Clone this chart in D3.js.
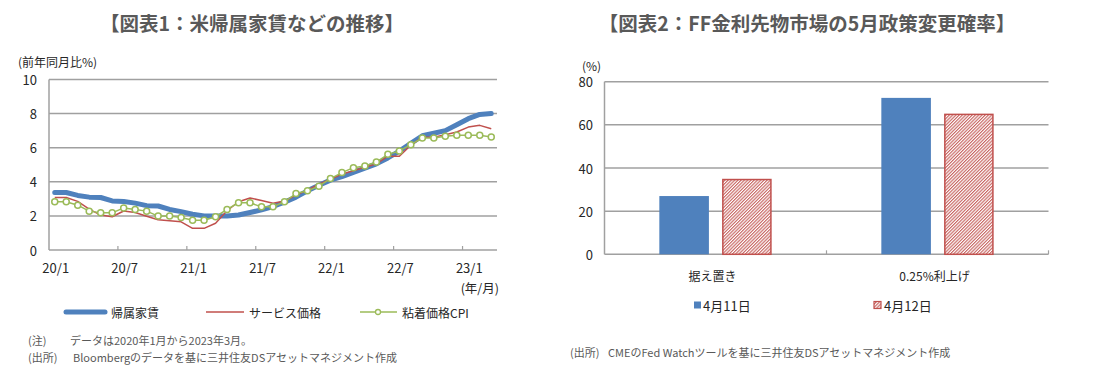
<!DOCTYPE html>
<html>
<head>
<meta charset="utf-8">
<script src="https://cdn.jsdelivr.net/npm/d3@7"></script>
<style>
  html, body { margin: 0; padding: 0; background: #fff; }
  svg { display: block; font-family: "Noto Sans CJK JP", "Noto Sans", sans-serif; }
</style>
</head>
<body>
<svg id="chart" width="1099" height="381"></svg>
<script>
// ---------- Data: chart 1 ----------
const months = [
  "20/1","20/2","20/3","20/4","20/5","20/6","20/7","20/8","20/9","20/10","20/11","20/12",
  "21/1","21/2","21/3","21/4","21/5","21/6","21/7","21/8","21/9","21/10","21/11","21/12",
  "22/1","22/2","22/3","22/4","22/5","22/6","22/7","22/8","22/9","22/10","22/11","22/12",
  "23/1","23/2","23/3"
];
const oer = [3.37,3.37,3.2,3.1,3.08,2.88,2.85,2.75,2.6,2.58,2.38,2.25,
             2.1,2.0,2.0,2.0,2.05,2.2,2.35,2.55,2.8,3.1,3.47,3.8,
             4.1,4.3,4.55,4.8,5.05,5.4,5.8,6.25,6.7,6.85,7.0,7.35,
             7.7,7.95,8.0];
const services = [3.08,3.08,2.85,2.4,2.05,1.95,2.29,2.2,1.98,1.77,1.72,1.65,
                  1.27,1.27,1.57,2.3,2.83,3.05,2.9,2.74,2.87,3.22,3.51,3.86,
                  4.15,4.45,4.65,4.85,5.05,5.5,5.5,6.14,6.62,6.62,6.76,6.92,
                  7.21,7.31,7.11];
const sticky = [2.83,2.83,2.63,2.28,2.18,2.18,2.47,2.38,2.28,1.99,1.99,1.91,
                1.75,1.75,1.95,2.38,2.77,2.77,2.53,2.53,2.83,3.31,3.47,3.74,
                4.19,4.54,4.83,4.93,5.16,5.61,5.81,6.18,6.57,6.57,6.67,6.73,
                6.73,6.73,6.63];
const xTickLabels = ["20/1","20/7","21/1","21/7","22/1","22/7","23/1"];
const yTicks1 = [0,2,4,6,8,10];
const seriesNames1 = ["帰属家賃","サービス価格","粘着価格CPI"];

// ---------- Data: chart 2 ----------
const categories2 = ["据え置き","0.25%利上げ"];
const seriesNames2 = ["4月11日","4月12日"];
const apr11 = [27.0, 72.5];
const apr12 = [35.0, 65.2];
const yTicks2 = [0,20,40,60,80];

// ---------- Styling ----------
const BLUE = "#4F81BD", RED = "#C0504D", GREEN = "#9BBB59";
const GRID = "#A0A0A0", TXT = "#262626", NOTE = "#595959", TITLE = "#595959";

const svg = d3.select("#chart");
const defs = svg.append("defs");
const pat = defs.append("pattern")
  .attr("id","hatch").attr("patternUnits","userSpaceOnUse")
  .attr("width",2.3).attr("height",2.3)
  .attr("patternTransform","rotate(45)");
pat.append("rect").attr("width",2.3).attr("height",2.3).attr("fill","#fff");
pat.append("line").attr("x1",0.6).attr("y1",0).attr("x2",0.6).attr("y2",2.3)
  .attr("stroke",RED).attr("stroke-width",1);

// ---------- Titles ----------
svg.append("text").attr("x",252).attr("y",22).attr("text-anchor","middle")
  .attr("dominant-baseline","central").attr("font-size",19.5).attr("font-weight","bold")
  .attr("fill",TITLE).text("【図表1：米帰属家賃などの推移】");
svg.append("text").attr("x",807).attr("y",22).attr("text-anchor","middle")
  .attr("dominant-baseline","central").attr("font-size",19.5).attr("font-weight","bold")
  .attr("fill",TITLE).text("【図表2：FF金利先物市場の5月政策変更確率】");

// ---------- Chart 1 ----------
const g1 = svg.append("g");
const x1 = d3.scaleBand().domain(months).range([49, 497]).padding(0);
const y1 = d3.scaleLinear().domain([0,10]).range([250, 79.5]);
const cx = d => x1(d) + x1.bandwidth()/2;

g1.selectAll(".grid").data(yTicks1.filter(v => v > 0)).join("line")
  .attr("x1",49).attr("x2",497).attr("y1",d=>y1(d)).attr("y2",d=>y1(d))
  .attr("stroke",GRID).attr("stroke-width",1.5);
g1.append("line").attr("x1",49).attr("x2",497).attr("y1",y1(0)).attr("y2",y1(0))
  .attr("stroke",GRID).attr("stroke-width",1.5);
g1.append("line").attr("x1",49).attr("x2",49).attr("y1",y1(0)).attr("y2",y1(10))
  .attr("stroke",GRID).attr("stroke-width",1.5);
g1.selectAll(".xt").data(xTickLabels.slice(1)).join("line")
  .attr("x1",d=>x1(d)).attr("x2",d=>x1(d)).attr("y1",y1(0)).attr("y2",y1(0)-4)
  .attr("stroke",GRID).attr("stroke-width",1.2);
g1.selectAll(".xl").data(xTickLabels).join("text")
  .attr("x",d=>cx(d)+1).attr("y",267).attr("text-anchor","middle")
  .attr("dominant-baseline","central").attr("font-size",13).attr("fill",TXT).text(d=>d);
g1.selectAll(".yl").data(yTicks1).join("text")
  .attr("x",37).attr("y",d=>y1(d)).attr("text-anchor","end")
  .attr("dominant-baseline","central").attr("font-size",13).attr("fill",TXT).text(d=>d);
g1.append("text").attr("x",18).attr("y",61).attr("dominant-baseline","central")
  .attr("font-size",12).attr("fill",TXT).text("(前年同月比%)");
g1.append("text").attr("x",499).attr("y",287).attr("text-anchor","end")
  .attr("dominant-baseline","central").attr("font-size",12.5).attr("fill",TXT).text("(年/月)");

const line1 = vals => d3.line().x((d,i)=>cx(months[i])).y(d=>y1(d))(vals);
g1.append("path").attr("d",line1(oer)).attr("fill","none").attr("stroke",BLUE)
  .attr("stroke-width",5).attr("stroke-linejoin","round").attr("stroke-linecap","round");
g1.append("path").attr("d",line1(services)).attr("fill","none").attr("stroke",RED)
  .attr("stroke-width",1.5).attr("stroke-linejoin","round");
g1.append("path").attr("d",line1(sticky)).attr("fill","none").attr("stroke",GREEN)
  .attr("stroke-width",1.5).attr("stroke-linejoin","round");
g1.selectAll(".mk").data(sticky).join("circle")
  .attr("cx",(d,i)=>cx(months[i])).attr("cy",d=>y1(d)).attr("r",3)
  .attr("fill","#fff").attr("stroke",GREEN).attr("stroke-width",1.5);

const ly = 312;
g1.append("line").attr("x1",66).attr("x2",105).attr("y1",ly).attr("y2",ly)
  .attr("stroke",BLUE).attr("stroke-width",5).attr("stroke-linecap","round");
g1.append("text").attr("x",111).attr("y",ly).attr("dominant-baseline","central")
  .attr("font-size",12).attr("fill",TXT).text(seriesNames1[0]);
g1.append("line").attr("x1",206).attr("x2",244).attr("y1",ly).attr("y2",ly)
  .attr("stroke",RED).attr("stroke-width",1.5);
g1.append("text").attr("x",249).attr("y",ly).attr("dominant-baseline","central")
  .attr("font-size",12).attr("fill",TXT).text(seriesNames1[1]);
g1.append("line").attr("x1",360).attr("x2",397).attr("y1",ly).attr("y2",ly)
  .attr("stroke",GREEN).attr("stroke-width",1.5);
g1.append("circle").attr("cx",378).attr("cy",ly).attr("r",2.5)
  .attr("fill","#fff").attr("stroke",GREEN).attr("stroke-width",1.3);
g1.append("text").attr("x",402).attr("y",ly).attr("dominant-baseline","central")
  .attr("font-size",12).attr("fill",TXT).text(seriesNames1[2]);

const notes1 = [["(注)","データは2020年1月から2023年3月。",70,340],
                ["(出所)","Bloombergのデータを基に三井住友DSアセットマネジメント作成",73,357]];
notes1.forEach(n => {
  g1.append("text").attr("x",28).attr("y",n[3]).attr("dominant-baseline","central")
    .attr("font-size",11).attr("fill",NOTE).text(n[0]);
  g1.append("text").attr("x",n[2]).attr("y",n[3]).attr("dominant-baseline","central")
    .attr("font-size",11).attr("fill",NOTE).text(n[1]);
});

// ---------- Chart 2 ----------
const g2 = svg.append("g");
const x2 = d3.scaleBand().domain(categories2).range([604.5, 1048.5]).padding(0);
const y2 = d3.scaleLinear().domain([0,80]).range([254.3, 81.7]);
const xi = d3.scaleBand().domain(seriesNames2)
  .range([x2.bandwidth()*0.247, x2.bandwidth()*0.753]).paddingInner(0.21);

g2.selectAll(".grid").data(yTicks2.filter(v=>v>0)).join("line")
  .attr("x1",604.5).attr("x2",1048.5).attr("y1",d=>y2(d)).attr("y2",d=>y2(d))
  .attr("stroke",GRID).attr("stroke-width",1.5);
g2.append("line").attr("x1",604.5).attr("x2",1048.5).attr("y1",y2(0)).attr("y2",y2(0))
  .attr("stroke",GRID).attr("stroke-width",1.5);
g2.append("line").attr("x1",604.5).attr("x2",604.5).attr("y1",y2(0)).attr("y2",y2(80))
  .attr("stroke",GRID).attr("stroke-width",1.5);
g2.selectAll(".xt").data(categories2).join("line")
  .attr("x1",d=>x2(d)+x2.bandwidth()).attr("x2",d=>x2(d)+x2.bandwidth())
  .attr("y1",y2(0)).attr("y2",y2(0)-4).attr("stroke",GRID).attr("stroke-width",1.2);

const rows = categories2.map((c,i)=>({cat:c, vals:[apr11[i], apr12[i]]}));
rows.forEach(r => {
  r.vals.forEach((v,j) => {
    const s = seriesNames2[j];
    g2.append("rect")
      .attr("x", x2(r.cat) + xi(s) + (j===1?0.75:0))
      .attr("y", y2(v) + (j===1?0.75:0))
      .attr("width", xi.bandwidth() - (j===1?1.5:0))
      .attr("height", y2(0) - y2(v) - (j===1?0.75:0))
      .attr("fill", j===0 ? BLUE : "url(#hatch)")
      .attr("stroke", j===0 ? "none" : RED)
      .attr("stroke-width", 1.5);
  });
});
g2.selectAll(".yl").data(yTicks2).join("text")
  .attr("x",593).attr("y",d=>y2(d)).attr("text-anchor","end")
  .attr("dominant-baseline","central").attr("font-size",13).attr("fill",TXT).text(d=>d);
g2.append("text").attr("x",582).attr("y",65).attr("dominant-baseline","central")
  .attr("font-size",12).attr("fill",TXT).text("(%)");
g2.selectAll(".cl").data(categories2).join("text")
  .attr("x",d=>x2(d)+x2.bandwidth()/2 - 3).attr("y",275).attr("text-anchor","middle")
  .attr("dominant-baseline","central").attr("font-size",12).attr("fill",TXT).text(d=>d);

const ly2 = 305;
g2.append("rect").attr("x",694).attr("y",ly2-3.5).attr("width",7).attr("height",7).attr("fill",BLUE);
g2.append("text").attr("x",703).attr("y",ly2).attr("dominant-baseline","central")
  .attr("font-size",13).attr("fill",TXT).text(seriesNames2[0]);
g2.append("rect").attr("x",874).attr("y",ly2-3.5).attr("width",7).attr("height",7)
  .attr("fill","url(#hatch)").attr("stroke",RED).attr("stroke-width",1.2);
g2.append("text").attr("x",884).attr("y",ly2).attr("dominant-baseline","central")
  .attr("font-size",13).attr("fill",TXT).text(seriesNames2[1]);

g2.append("text").attr("x",570).attr("y",352).attr("dominant-baseline","central")
  .attr("font-size",11).attr("fill",NOTE).text("(出所)");
g2.append("text").attr("x",608).attr("y",352).attr("dominant-baseline","central")
  .attr("font-size",11).attr("fill",NOTE).text("CMEのFed Watchツールを基に三井住友DSアセットマネジメント作成");
</script>
</body>
</html>
